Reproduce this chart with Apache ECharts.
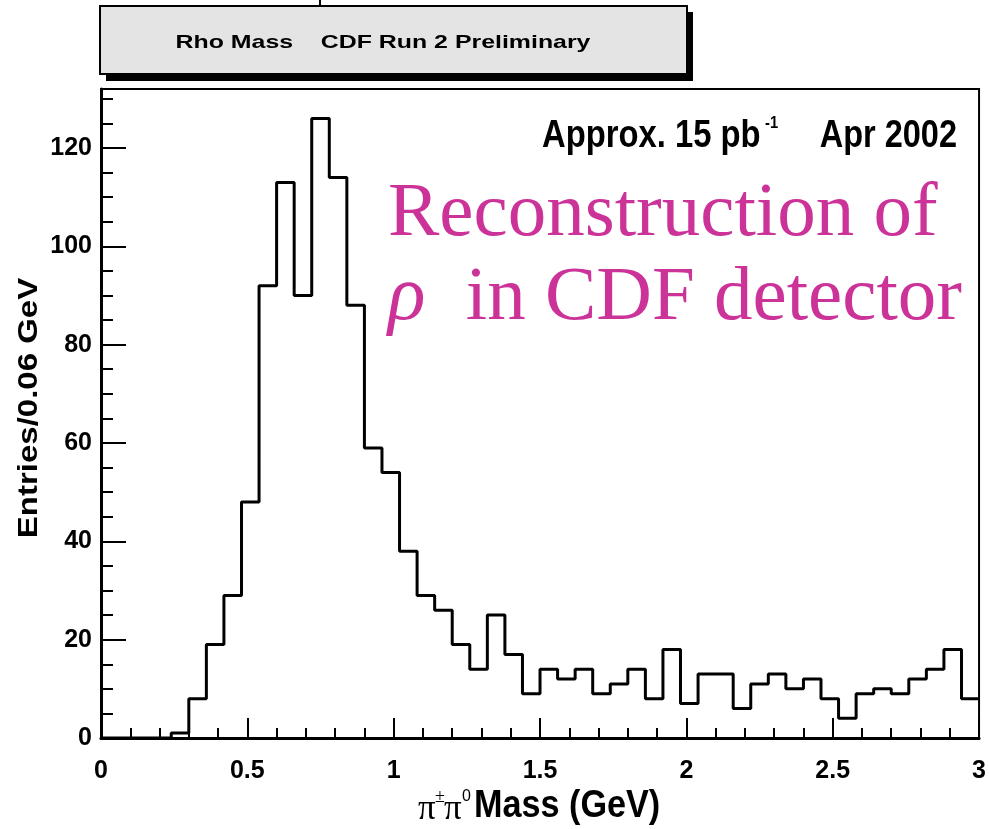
<!DOCTYPE html>
<html>
<head>
<meta charset="utf-8">
<script src="https://cdn.jsdelivr.net/npm/echarts@6/dist/echarts.min.js"></script>
<style>
html,body{margin:0;padding:0;background:#ffffff;}
#chart{width:989px;height:829px;}
</style>
</head>
<body>
<div id="chart"></div>
<script>
// ---- data ----
const binWidth = 0.06;          // GeV per bin
const xMin = 0, xMax = 3;       // GeV
const counts = [0,0,0,0,1,8,19,29,48,92,113,90,126,114,88,59,54,38,29,26,
                19,14,25,17,9,14,12,14,9,11,14,8,18,7,13,13,6,11,13,10,
                12,8,4,9,10,9,12,14,18,8];
const yMin = 0, yMax = 132;
const xTickStep = 0.5, yTickStep = 20;

const titleText = 'Rho Mass    CDF Run 2 Preliminary';
const lumiText = 'Approx. 15 pb';
const lumiSup = '-1';
const dateText = 'Apr 2002';
const noteLine1 = 'Reconstruction of';
const noteRho = 'ρ';
const noteLine2 = 'in CDF detector';
const yTitle = 'Entries/0.06 GeV';
const xTitleSym = 'π';
const xTitleSupA = '±';
const xTitleSupB = '0';
const xTitleWord = 'Mass (GeV)';

// histogram outline points (bin low edges + closing point at the upper edge)
const histData = counts.map((c, i) => [xMin + i * binWidth, c]);
histData.push([xMax, counts[counts.length - 1]]);

const chart = echarts.init(document.getElementById('chart'), null, {renderer: 'canvas'});
const SANS = '"Liberation Sans", Arial, Helvetica, sans-serif';
const SERIF = '"Liberation Serif", "Times New Roman", serif';
const MAG = '#cc3399';

function txt(x, y, text, font, fill, align, extra) {
  return Object.assign({type: 'text', x: x, y: y, z: 12,
    style: {text: text, fill: fill, font: font, align: align, verticalAlign: 'middle'}}, extra || {});
}

chart.setOption({
  backgroundColor: '#ffffff',
  animation: false,
  grid: {left: 101, right: 8, top: 89, bottom: 91, show: true, borderColor: '#000', borderWidth: 2, backgroundColor: 'transparent'},
  xAxis: {
    type: 'value', min: xMin, max: xMax, interval: xTickStep,
    axisLine: {show: true, onZero: false, lineStyle: {color: '#000', width: 3}},
    axisTick: {show: true, inside: true, length: 20, lineStyle: {color: '#000', width: 2}},
    minorTick: {show: true, splitNumber: 5, length: 10, lineStyle: {color: '#000', width: 2}},
    axisLabel: {show: true, margin: 21, color: '#000', fontSize: 25, fontWeight: 'bold', fontFamily: SANS, showMinLabel: true, showMaxLabel: true},
    splitLine: {show: false}
  },
  yAxis: {
    type: 'value', min: yMin, max: yMax, interval: yTickStep,
    axisLine: {show: true, onZero: false, lineStyle: {color: '#000', width: 3}},
    axisTick: {show: true, inside: true, length: 25, lineStyle: {color: '#000', width: 2}},
    minorTick: {show: true, splitNumber: 4, length: 12, lineStyle: {color: '#000', width: 2}},
    axisLabel: {show: true, margin: 9, color: '#000', fontSize: 25, fontWeight: 'bold', fontFamily: SANS, showMinLabel: true, showMaxLabel: false},
    splitLine: {show: false}
  },
  series: [{
    type: 'line',
    data: histData,
    step: 'end',
    symbol: 'none',
    lineStyle: {color: '#000', width: 3},
    z: 3
  }],
  graphic: [
    // title box with shadow
    {type: 'rect', shape: {x: 106, y: 12, width: 587, height: 69}, style: {fill: '#000'}, z: 10},
    {type: 'rect', shape: {x: 100, y: 6, width: 587, height: 68}, style: {fill: '#e4e4e4', stroke: '#000', lineWidth: 2}, z: 11},
    {type: 'line', shape: {x1: 320, y1: 0, x2: 320, y2: 5}, style: {stroke: '#000', lineWidth: 2}, z: 11},
    txt(383, 43, titleText, 'bold 19px ' + SANS, '#000', 'center', {scaleX: 1.31}),
    // luminosity / date
    txt(542, 137, lumiText, 'bold 38px ' + SANS, '#000', 'left', {scaleX: 0.863}),
    txt(765, 123.5, lumiSup, 'bold 17px ' + SANS, '#000', 'left', {scaleX: 0.863}),
    txt(957, 137, dateText, 'bold 38px ' + SANS, '#000', 'right', {scaleX: 0.855}),
    // magenta annotation
    txt(388, 214.5, noteLine1, '77px ' + SERIF, MAG, 'left'),
    txt(388, 298.5, noteRho, 'italic 78px ' + SERIF, MAG, 'left'),
    txt(962, 298.5, noteLine2, '77px ' + SERIF, MAG, 'right'),
    // y axis title (rotated)
    txt(29, 408, yTitle, 'bold 33px ' + SANS, '#000', 'center', {rotation: Math.PI / 2, scaleY: 0.85}),
    // x axis title: pi(+-) pi(0) Mass (GeV)
    txt(418, 810, xTitleSym, '35px ' + SERIF, '#000', 'left'),
    txt(435, 797, xTitleSupA, '18px ' + SERIF, '#000', 'left'),
    txt(444, 810, xTitleSym, '35px ' + SERIF, '#000', 'left'),
    txt(462, 797, xTitleSupB, '16px ' + SANS, '#000', 'left'),
    txt(474, 807, xTitleWord, 'bold 38px ' + SANS, '#000', 'left', {scaleX: 0.9})
  ]
});
</script>
</body>
</html>
